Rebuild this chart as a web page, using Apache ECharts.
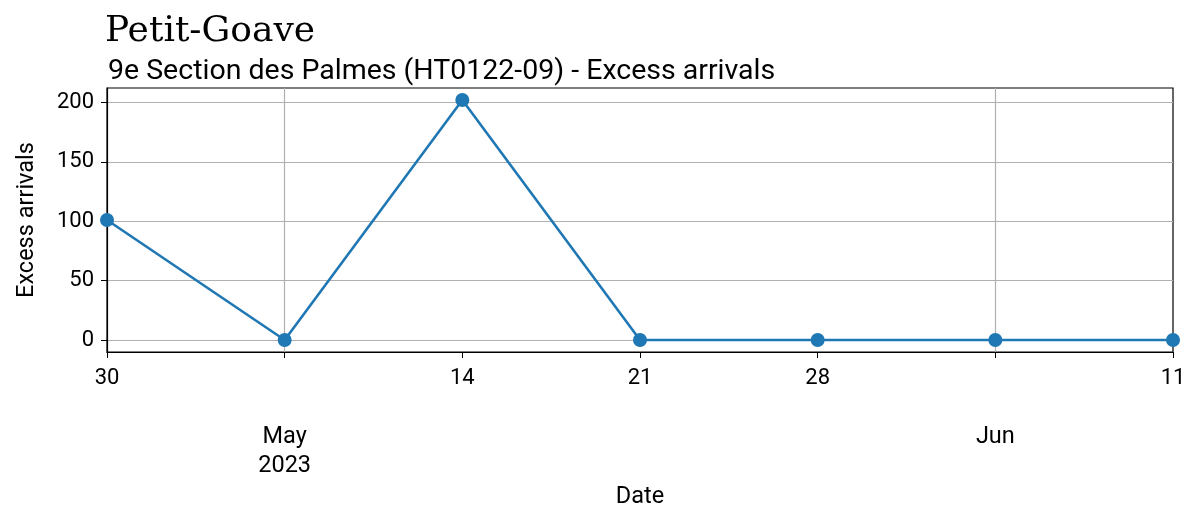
<!DOCTYPE html>
<html>
<head>
<meta charset="utf-8">
<script src="https://cdn.jsdelivr.net/npm/echarts@6/dist/echarts.min.js"></script>
<style>html,body{margin:0;padding:0;background:#fff}#c{width:1193px;height:514px}</style>
</head>
<body>
<div id="c"></div>
<script>
const dates = ['2023-04-30','2023-05-07','2023-05-14','2023-05-21','2023-05-28','2023-06-04','2023-06-11'];
const minorLabels = ['30','','14','21','28','','11'];
const majorLabels = ['','May\n2023','','','','Jun',''];
const excessArrivals = [101, 0, 202, 0, 0, 0, 0];
const yTicks = [0, 50, 100, 150, 200];

const chart = echarts.init(document.getElementById('c'));
const font = 'Roboto';
chart.setOption({
  animation: false,
  title: [
    {text: 'Petit-Goave', left: 100, top: 9, textStyle: {fontFamily: 'DejaVu Serif', fontWeight: 'normal', fontSize: 36, color: '#000'}},
    {text: '9e Section des Palmes (HT0122-09) - Excess arrivals', left: 103, top: 52, textStyle: {fontFamily: font, fontWeight: 'normal', fontSize: 28.5, color: '#000'}}
  ],
  grid: {left: 107, right: 20, top: 88, bottom: 161, show: true, borderColor: '#000', borderWidth: 1.2, containLabel: false},
  xAxis: [
    {
      type: 'category', data: dates, boundaryGap: false,
      axisLine: {show: true, onZero: false, lineStyle: {color: '#000', width: 1.2}},
      axisTick: {show: true, interval: 0, length: 6, lineStyle: {color: '#000'}},
      axisLabel: {interval: 0, margin: 15, fontFamily: font, fontSize: 22, color: '#000',
        formatter: (v, i) => minorLabels[i]},
      splitLine: {show: true, interval: (i) => majorLabels[i] !== '', lineStyle: {color: '#b0b0b0', width: 1.2}},
      name: 'Date', nameLocation: 'middle', nameGap: 133,
      nameTextStyle: {fontFamily: font, fontSize: 23.5, color: '#000'}
    },
    {
      type: 'category', data: dates, boundaryGap: false, position: 'bottom',
      axisLine: {show: false, onZero: false},
      axisTick: {show: false},
      axisLabel: {interval: 0, margin: 71, fontFamily: font, fontSize: 23.5, color: '#000', lineHeight: 29,
        formatter: (v, i) => majorLabels[i]},
      splitLine: {show: false}
    }
  ],
  yAxis: {
    type: 'value', min: -10.1, max: 212.1,
    axisLine: {show: true, lineStyle: {color: '#000', width: 1.2}},
    axisTick: {show: true, length: 6, lineStyle: {color: '#000'}, customValues: yTicks},
    axisLabel: {margin: 13, fontFamily: font, fontSize: 22, color: '#000', customValues: yTicks},
    splitLine: {show: true, lineStyle: {color: '#b0b0b0', width: 1.2}},
    name: 'Excess arrivals', nameLocation: 'middle', nameGap: 68, nameRotate: 90,
    nameTextStyle: {fontFamily: font, fontSize: 23.5, color: '#000'}
  },
  series: [{
    type: 'line', data: excessArrivals, xAxisIndex: 0,
    symbol: 'circle', symbolSize: 14,
    lineStyle: {color: '#1f77b4', width: 2.6},
    itemStyle: {color: '#1f77b4'},
    clip: false
  }]
});
</script>
</body>
</html>
